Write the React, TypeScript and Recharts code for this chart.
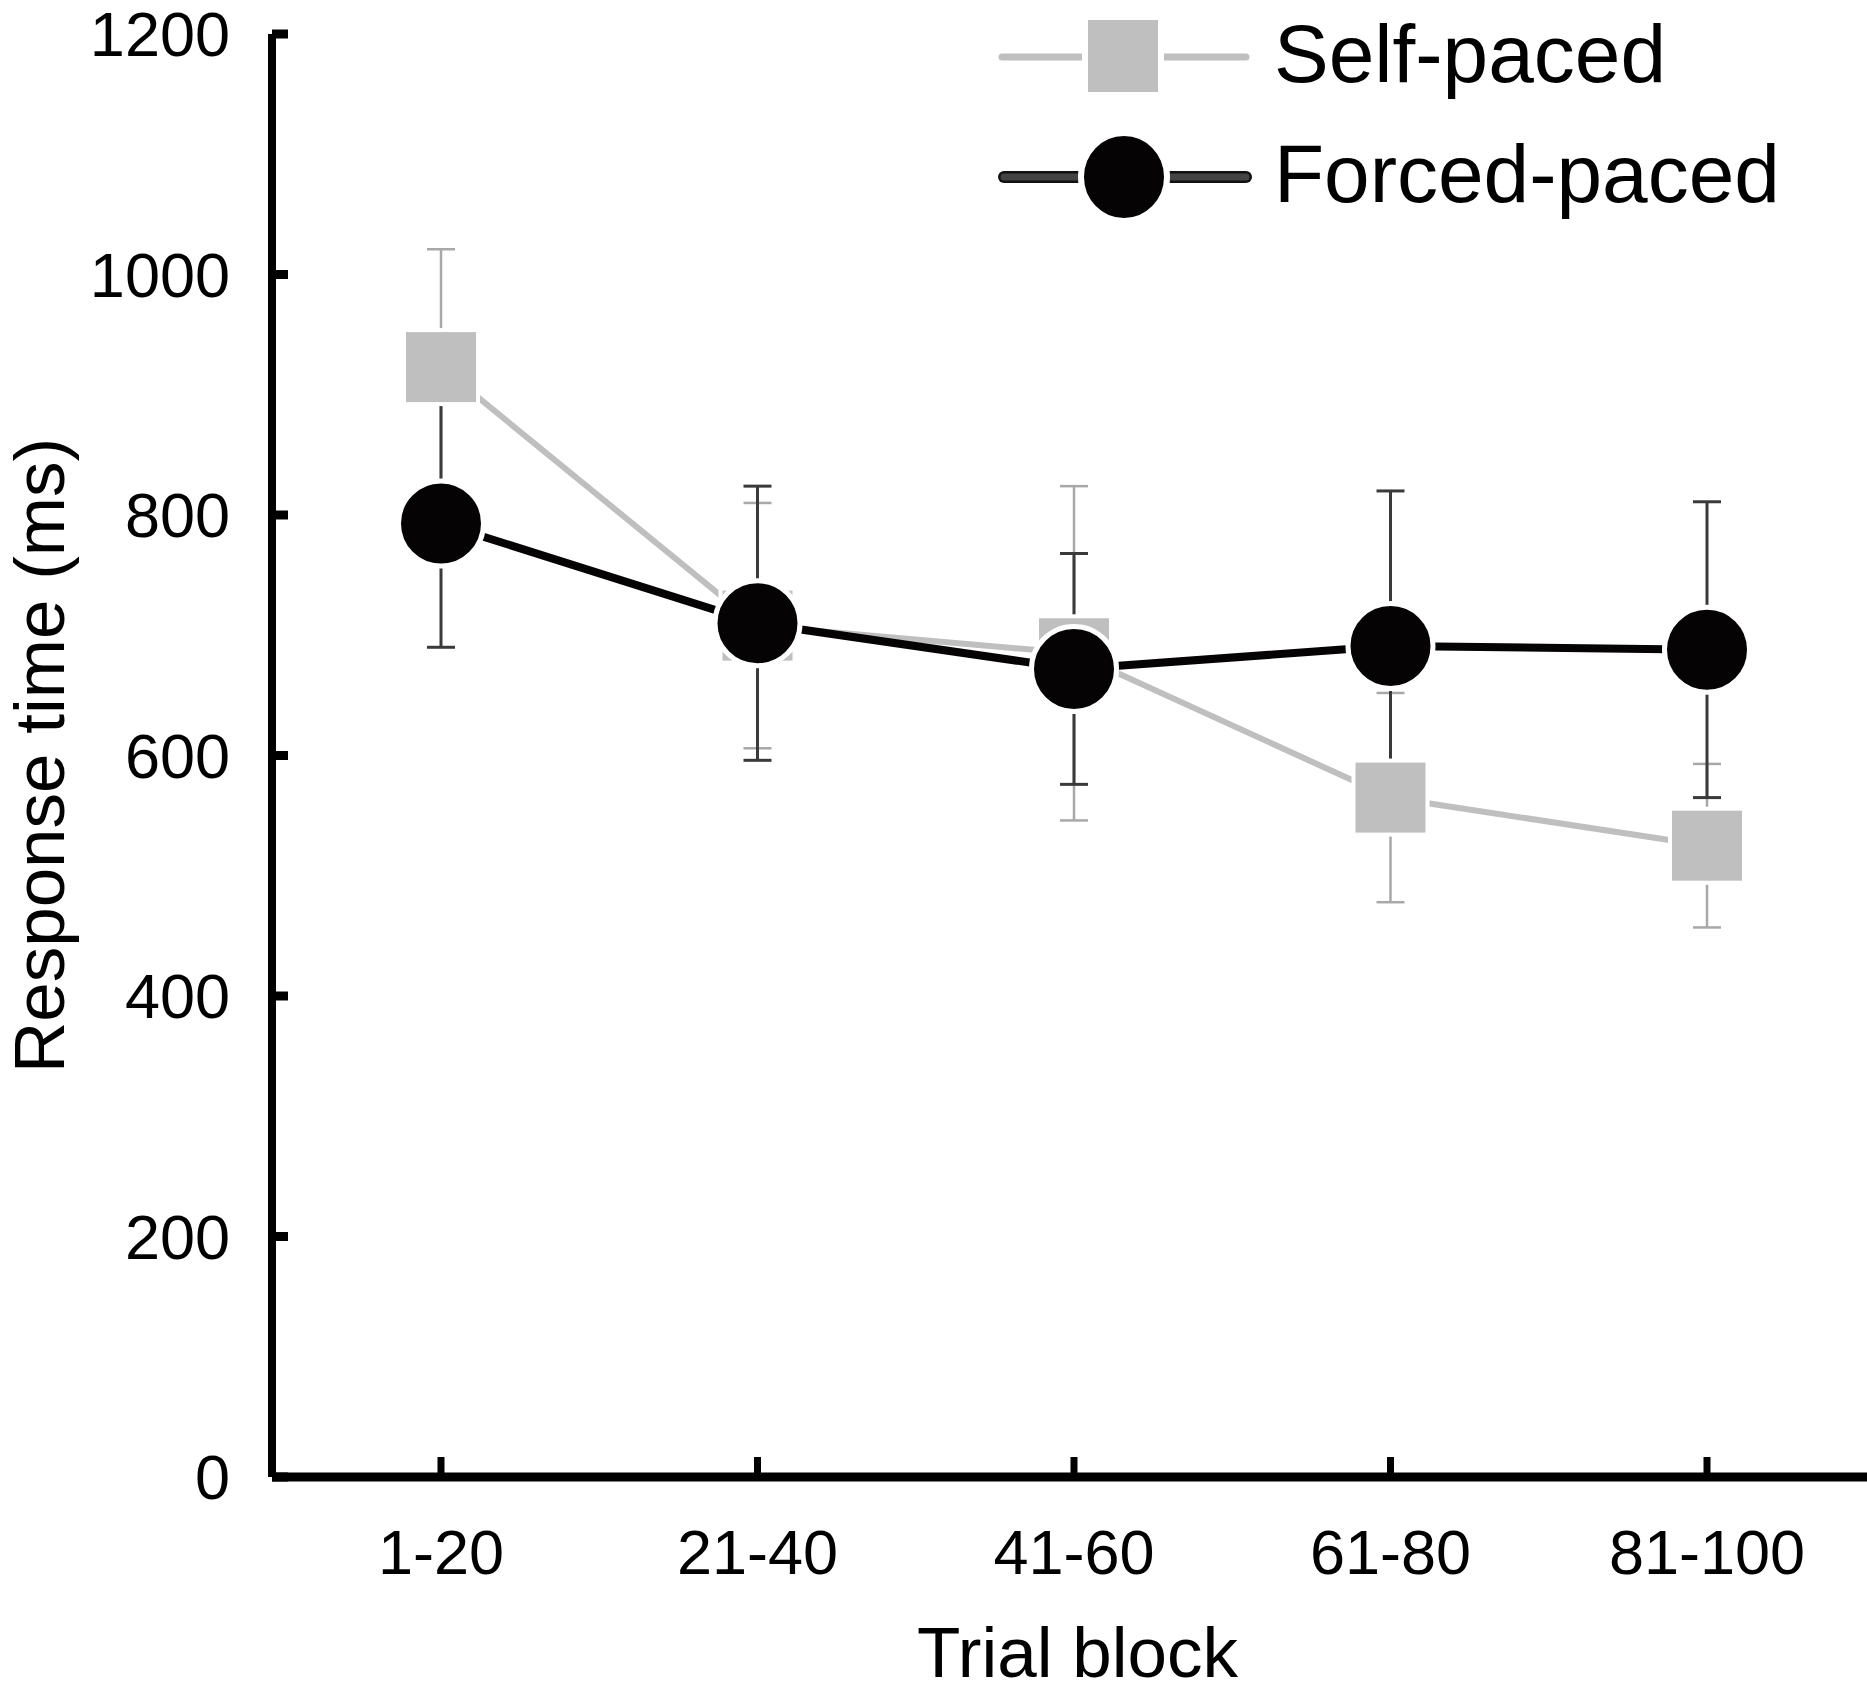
import React from "react";
import { LineChart, Line, XAxis, YAxis, ErrorBar, Legend } from "recharts";

const blocks = ["1-20", "21-40", "41-60", "61-80", "81-100"];
const selfPaced = [923, 708, 685, 565, 525];
const selfErr = [98, 102, 139, 87, 68];
const forcedPaced = [793, 710, 672, 691, 688];
const forcedErr = [103, 114, 96, 129, 123];
const yTicks = [0, 200, 400, 600, 800, 1000, 1200];
const seriesNames = { self: "Self-paced", forced: "Forced-paced" };

const data = blocks.map((block, i) => ({
  block,
  self: selfPaced[i],
  selfErr: selfErr[i],
  forced: forcedPaced[i],
  forcedErr: forcedErr[i]
}));

const FONT = "'Liberation Sans', Arial, Helvetica, sans-serif";
const GREY = "#bfbfbf";

const renderSquare = (props: any) => {
  const { cx, cy, index } = props;
  if (cx == null || cy == null) return <g key={`sq-${index}`} />;
  return (
    <rect
      key={`sq-${index}`}
      x={cx - 37}
      y={cy - 37}
      width={74}
      height={74}
      fill={GREY}
      stroke="#fff"
      strokeWidth={4}
    />
  );
};

const renderCircle = (props: any) => {
  const { cx, cy, index } = props;
  if (cx == null || cy == null) return <g key={`ci-${index}`} />;
  return (
    <circle
      key={`ci-${index}`}
      cx={cx}
      cy={cy}
      r={42.5}
      fill="#050303"
      stroke="#fff"
      strokeWidth={5}
    />
  );
};

const YTitle = (props: any) => {
  const { x, y, height } = props.viewBox;
  const cx = x + 64;
  const cy = y + height / 2;
  return (
    <text
      x={cx}
      y={cy}
      transform={`rotate(-90 ${cx} ${cy})`}
      textAnchor="middle"
      fontSize={71}
      fontFamily={FONT}
      fill="#000"
    >
      Response time (ms)
    </text>
  );
};

const XTitle = (props: any) => {
  const { x, y, width } = props.viewBox;
  return (
    <text
      x={x + width / 2 + 8}
      y={y + 200}
      textAnchor="middle"
      fontSize={71}
      fontFamily={FONT}
      fill="#000"
    >
      Trial block
    </text>
  );
};

const renderLegend = (props: any) => {
  const payload = props.payload || [];
  const order = ["self", "forced"];
  const items = order
    .map((k) => payload.find((p: any) => p.dataKey === k))
    .filter(Boolean);
  return (
    <svg width={1867} height={240} style={{ display: "block" }}>
      {items.map((entry: any, i: number) => {
        const cy = 57 + i * 120;
        const isSelf = entry.dataKey === "self";
        return (
          <g key={entry.dataKey}>
            {isSelf ? (
              <line x1={1002} y1={cy} x2={1246} y2={cy} stroke={GREY} strokeWidth={7} strokeLinecap="round" />
            ) : (
              <g>
                <line x1={1004} y1={cy} x2={1246} y2={cy} stroke="#111" strokeWidth={12} strokeLinecap="round" />
                <line x1={1004} y1={cy} x2={1246} y2={cy} stroke="#444" strokeWidth={7} strokeLinecap="round" />
              </g>
            )}
            {isSelf ? (
              <rect x={1085} y={17} width={76} height={78} fill={GREY} stroke="#fff" strokeWidth={6} />
            ) : (
              <ellipse cx={1124} cy={cy} rx={43} ry={44} fill="#050303" stroke="#fff" strokeWidth={6} />
            )}
            <text x={1274} y={cy + 25} fontSize={82} fontFamily={FONT} fill="#000">
              {entry.value}
            </text>
          </g>
        );
      })}
    </svg>
  );
};

export default function App() {
  return (
    <div style={{ position: "absolute", left: 0, top: 0, background: "#fff" }}>
      <LineChart
        width={1867}
        height={1694}
        data={data}
        margin={{ top: 34, right: 0, left: 0, bottom: 0 }}
      >
        <XAxis
          dataKey="block"
          height={217}
          padding={{ left: 169, right: 160 }}
          interval={0}
          axisLine={{ stroke: "#000", strokeWidth: 9 }}
          tickLine={{ stroke: "#000", strokeWidth: 7 }}
          tickSize={-20}
          tickMargin={72}
          tick={{ fontSize: 63, fill: "#000", fontFamily: FONT }}
          label={<XTitle />}
        />
        <YAxis
          width={272}
          domain={[0, 1200]}
          ticks={yTicks}
          interval={0}
          axisLine={{ stroke: "#000", strokeWidth: 8 }}
          tickLine={{ stroke: "#000", strokeWidth: 9 }}
          tickSize={-16}
          tickMargin={58}
          tick={{ fontSize: 63, fill: "#000", fontFamily: FONT }}
          label={<YTitle />}
        />
        <Legend
          layout="vertical"
          align="center"
          verticalAlign="middle"
          content={renderLegend}
          wrapperStyle={{ top: 0, left: 0, width: 1867, height: 240 }}
        />
        <Line
          dataKey="self"
          stroke="none"
          dot={false}
          activeDot={false}
          legendType="none"
          isAnimationActive={false}
        >
          <ErrorBar dataKey="selfErr" width={14} stroke="#a8a8a8" strokeWidth={2.5} />
        </Line>
        <Line
          dataKey="forced"
          stroke="none"
          dot={false}
          activeDot={false}
          legendType="none"
          isAnimationActive={false}
        >
          <ErrorBar dataKey="forcedErr" width={14} stroke="#3a3a3a" strokeWidth={3} />
        </Line>
        <Line
          dataKey="self"
          name={seriesNames.self}
          stroke={GREY}
          strokeWidth={6}
          dot={renderSquare}
          activeDot={false}
          isAnimationActive={false}
        />
        <Line
          dataKey="forced"
          name={seriesNames.forced}
          stroke="#050303"
          strokeWidth={8}
          dot={renderCircle}
          activeDot={false}
          isAnimationActive={false}
        />
      </LineChart>
    </div>
  );
}
